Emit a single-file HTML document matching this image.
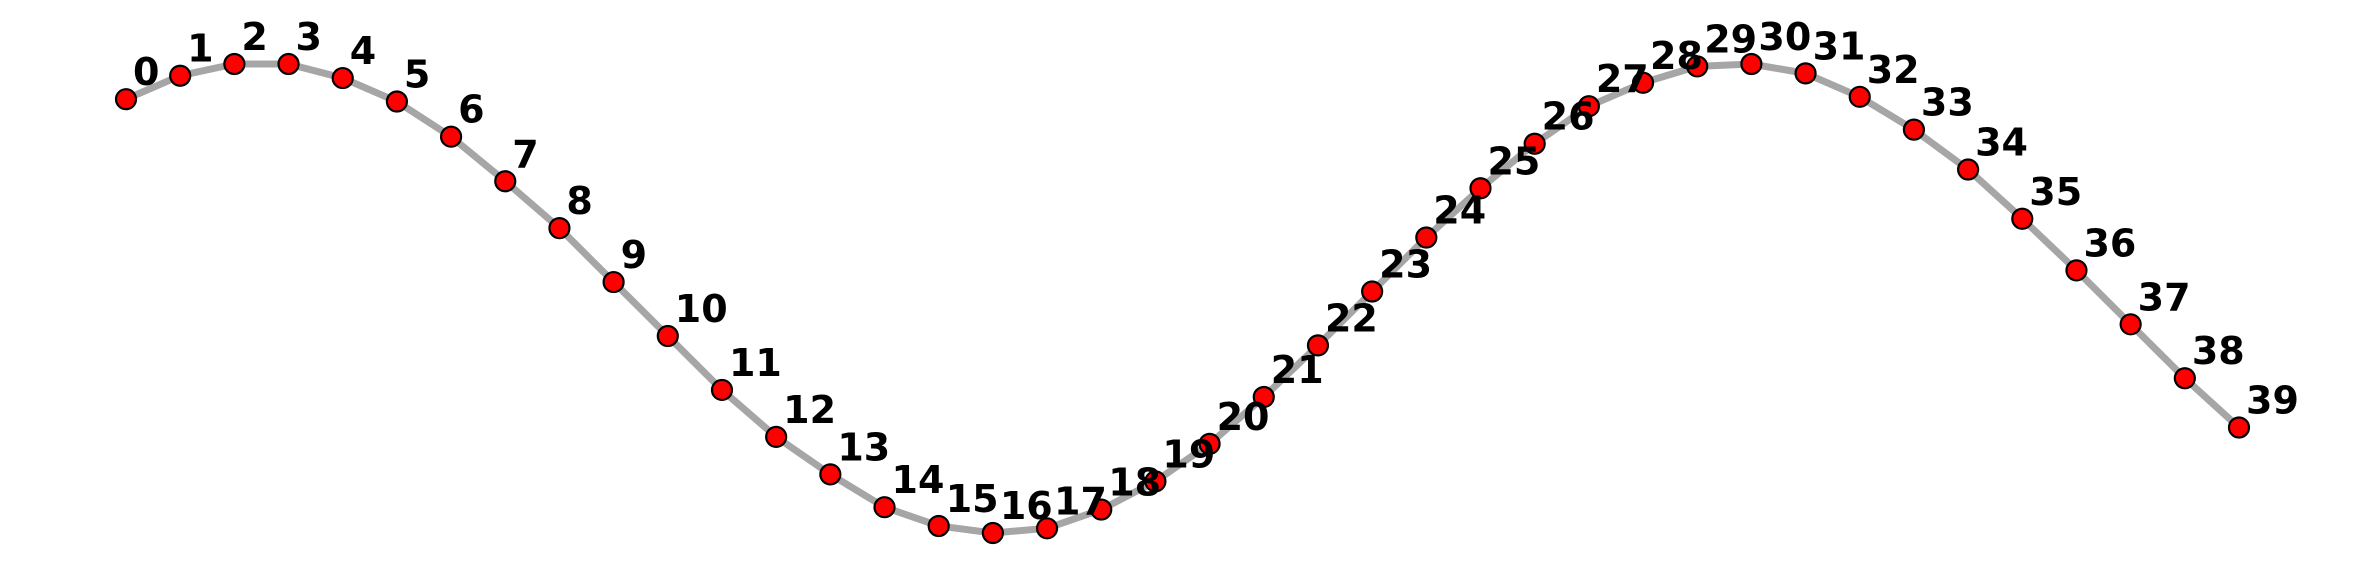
<!DOCTYPE html>
<html><head><meta charset="utf-8"><style>
html,body{margin:0;padding:0;background:#fff;}
svg{display:block;}
text{font-family:"DejaVu Sans","Liberation Sans",sans-serif;font-weight:bold;font-size:38px;fill:#000;}
</style></head><body>
<svg id="chart" width="2365" height="576" viewBox="0 0 2365 576"></svg>
<script>
const indices = [];
for (let i = 0; i < 40; i++) indices.push(i);
const values = [0.85,0.95,1.00,1.00,0.94,0.84,0.69,0.50,0.30,0.07,-0.16,-0.39,-0.59,-0.75,-0.89,-0.97,-1.00,-0.98,-0.90,-0.78,-0.62,-0.42,-0.20,0.03,0.26,0.47,0.66,0.82,0.92,0.99,1.00,0.96,0.86,0.72,0.55,0.34,0.12,-0.11,-0.34,-0.55];
const labels = indices.map(String);

function xScale(i){ return 126 + i * (2239 - 126) / 39; }
function yScale(v){ return 298.5 - v * 234.5; }

const NS = "http://www.w3.org/2000/svg";
const svg = document.getElementById('chart');

const line = document.createElementNS(NS, 'polyline');
line.setAttribute('points', values.map((v,i)=>xScale(indices[i])+','+yScale(v)).join(' '));
line.setAttribute('fill','none');
line.setAttribute('stroke','#a6a6a6');
line.setAttribute('stroke-width','7');
line.setAttribute('stroke-linejoin','round');


svg.appendChild(line);

values.forEach((v,i)=>{
  const c = document.createElementNS(NS,'circle');
  c.setAttribute('cx', xScale(indices[i]));
  c.setAttribute('cy', yScale(v));
  c.setAttribute('r', '10');
  c.setAttribute('fill','#ff0000');
  c.setAttribute('stroke','#000');
  c.setAttribute('stroke-width','2.2');
  
  
  svg.appendChild(c);
});

values.forEach((v,i)=>{
  const t = document.createElementNS(NS,'text');
  t.setAttribute('x', xScale(indices[i]) + 7);
  t.setAttribute('y', yScale(v) - 14);
  t.textContent = labels[i];
  
  
  svg.appendChild(t);
});
</script>
</body></html>
